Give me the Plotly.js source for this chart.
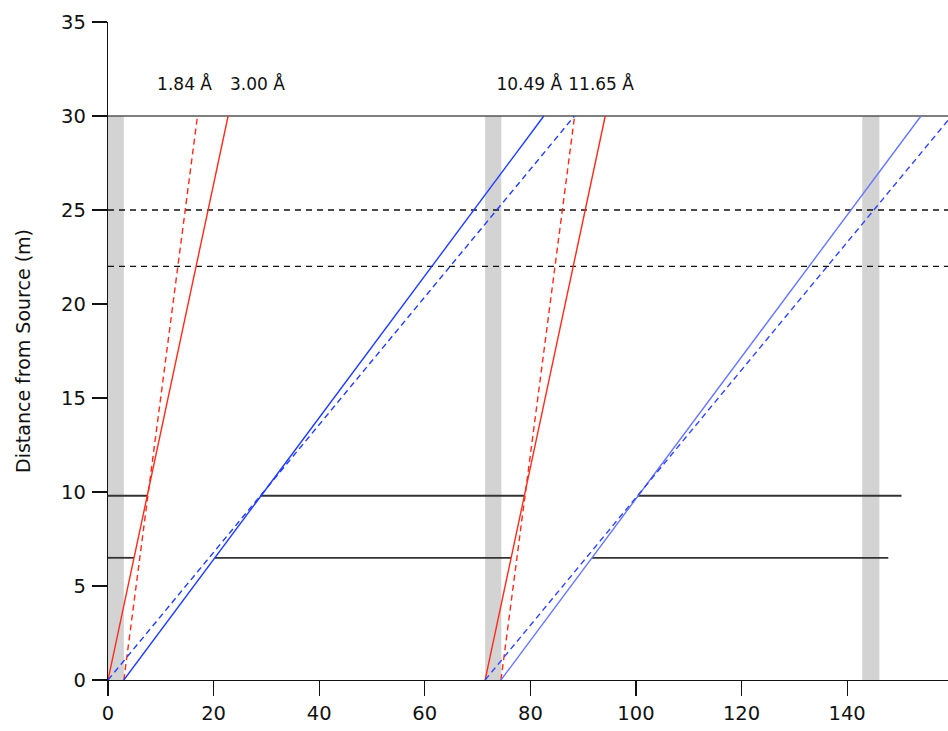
<!DOCTYPE html>
<html>
<head>
<meta charset="utf-8">
<script src="https://cdn.plot.ly/plotly-3.0.1.min.js"></script>
<style>html,body{margin:0;padding:0;background:#fff;}#chart{width:948px;height:731px;}</style>
</head>
<body>
<div id="chart"></div>
<script>
// Time (ms) vs distance from source (m)
const pulseStart = [0, 71.43, 142.86];
const pulseEnd = [3.0, 74.5, 146.1];
const pulseTop = 30;

// Neutron trajectories: start time at 0 m, time at 30 m
const trajLabels = ["1.84 Å", "3.00 Å", "10.49 Å", "11.65 Å", "1.84 Å", "3.00 Å", "10.49 Å", "11.65 Å"];
const trajT0 = [3.0, 0, 3.0, 0, 74.43, 71.43, 74.43, 71.43];
const trajT30 = [16.95, 22.75, 82.55, 88.35, 88.38, 94.18, 153.98, 159.78];
const trajColor = ["#ff2a1a", "#ff2a1a", "#1f3cff", "#1f3cff", "#ff2a1a", "#ff2a1a", "#6677ff", "#2f45ff"];
const trajDash = ["dash", "solid", "solid", "dash", "dash", "solid", "solid", "dash"];
const trajDist = [0, 30];

// Chopper / guide levels
const topLevel = 30;
const dashedLevels = [25, 22];
const chopperLevels = [9.8, 6.5];
const chopperSegStart = [[0, 28.86, 100.29], [0, 20.2, 91.67]];
const chopperSegEnd = [[7.43, 78.86, 150.29], [4.93, 76.36, 147.79]];

// Wavelength labels
const labelText = ["1.84 Å", "3.00 Å", "10.49 Å", "11.65 Å"];
const labelX = [14.5, 28.3, 79.8, 93.4];
const labelY = [31.6, 31.6, 31.6, 31.6];

const xTicks = [0, 20, 40, 60, 80, 100, 120, 140];
const yTicks = [0, 5, 10, 15, 20, 25, 30, 35];
const xMax = 159.1;

const FONT = "DejaVu Sans, Open Sans, sans-serif";
const traces = [];
for (let i = 0; i < pulseStart.length; i++) {
  traces.push({
    x: [pulseStart[i], pulseEnd[i], pulseEnd[i], pulseStart[i], pulseStart[i]],
    y: [0, 0, pulseTop, pulseTop, 0],
    mode: "lines", fill: "toself", fillcolor: "#d3d3d3",
    line: {width: 0, color: "#d3d3d3"}, hoverinfo: "skip", showlegend: false
  });
}
traces.push({x: [0, xMax], y: [topLevel, topLevel], mode: "lines",
  line: {color: "#555555", width: 1.7}, showlegend: false, hoverinfo: "skip"});
dashedLevels.forEach(v => traces.push({x: [0, xMax], y: [v, v], mode: "lines",
  line: {color: "#111111", width: 1.3, dash: "6px,5px"}, showlegend: false, hoverinfo: "skip"}));
chopperLevels.forEach((v, k) => {
  for (let j = 0; j < chopperSegStart[k].length; j++) {
    traces.push({x: [chopperSegStart[k][j], chopperSegEnd[k][j]], y: [v, v], mode: "lines",
      line: {color: "#333333", width: 1.8}, showlegend: false, hoverinfo: "skip"});
  }
});
for (let i = 0; i < trajT0.length; i++) {
  traces.push({x: [trajT0[i], trajT30[i]], y: trajDist, mode: "lines", name: trajLabels[i],
    line: {color: trajColor[i], width: 1.4, dash: trajDash[i] === "dash" ? "6px,4px" : "solid"},
    showlegend: false});
}
traces.push({x: labelX, y: labelY, text: labelText, mode: "text", textposition: "middle center",
  textfont: {family: FONT, size: 17, color: "#111111"},
  showlegend: false, hoverinfo: "skip", cliponaxis: false});

const layout = {
  width: 948, height: 731,
  margin: {l: 108, r: 0, t: 22, b: 51},
  paper_bgcolor: "#ffffff", plot_bgcolor: "#ffffff",
  font: {family: FONT, color: "#111111"},
  showlegend: false,
  xaxis: {range: [0, xMax], tickvals: xTicks, ticktext: xTicks.map(String),
    showgrid: false, zeroline: false, showline: true, linecolor: "#111111", linewidth: 1.3,
    ticks: "outside", ticklen: 15, tickwidth: 1.3, tickcolor: "#111111",
    tickfont: {family: FONT, size: 19.5, color: "#111111"}},
  yaxis: {range: [0, 35], tickvals: yTicks, ticktext: yTicks.map(String),
    showgrid: false, zeroline: false, showline: true, linecolor: "#111111", linewidth: 1.3,
    ticks: "outside", ticklen: 15, tickwidth: 1.3, tickcolor: "#111111",
    ticklabelstandoff: 2,
    tickfont: {family: FONT, size: 19.5, color: "#111111"},
    title: {text: "Distance from Source (m)", font: {family: FONT, size: 19, color: "#111111"}, standoff: 25}}
};
Plotly.newPlot("chart", traces, layout, {displayModeBar: false, staticPlot: true});
</script>
</body>
</html>
